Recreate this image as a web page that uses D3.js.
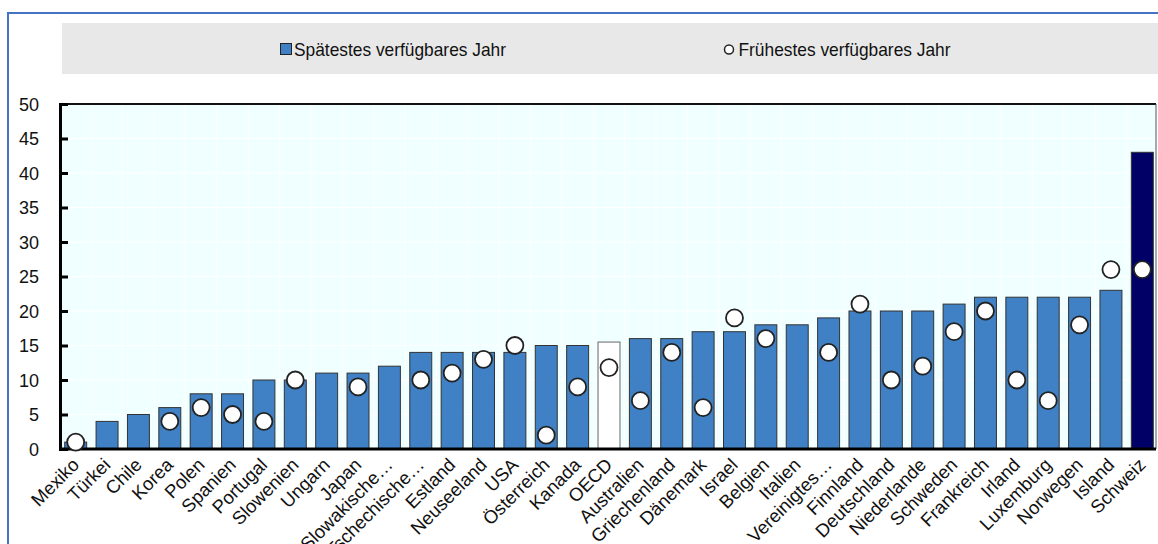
<!DOCTYPE html>
<html>
<head>
<meta charset="utf-8">
<script src="https://cdn.jsdelivr.net/npm/d3@7"></script>
<style>
  html, body { margin: 0; padding: 0; background: #ffffff; }
  svg { display: block; }
  text { font-family: "Liberation Sans", Arial, sans-serif; fill: #111; }
</style>
</head>
<body>
<svg id="chart" width="1158" height="544"></svg>
<script>
const categories = ["Mexiko","Türkei","Chile","Korea","Polen","Spanien","Portugal","Slowenien","Ungarn","Japan","Slowakische…","Tschechische…","Estland","Neuseeland","USA","Österreich","Kanada","OECD","Australien","Griechenland","Dänemark","Israel","Belgien","Italien","Vereinigtes…","Finnland","Deutschland","Niederlande","Schweden","Frankreich","Irland","Luxemburg","Norwegen","Island","Schweiz"];
const latestYear = [1,4,5,6,8,8,10,10,11,11,12,14,14,14,14,15,15,15.5,16,16,17,17,18,18,19,20,20,20,21,22,22,22,22,23,43];
const earliestYear = [1,null,null,4,6,5,4,10,null,9,null,10,11,13,15,2,9,11.8,7,14,6,19,16,null,14,21,10,12,17,20,10,7,18,26,26];
const yTicks = [0,5,10,15,20,25,30,35,40,45,50];
const legendLabels = ["Spätestes verfügbares Jahr","Frühestes verfügbares Jahr"];

(function () {
const svg = d3.select("#chart");
const pL = 60, pR = 1156, pT = 104, pB = 449;

// outer frame
svg.append("rect").attr("x",8).attr("y",13).attr("width",1200).attr("height",600)
  .attr("fill","none").attr("stroke","#4472c4").attr("stroke-width",2);

// legend band
svg.append("rect").attr("x",62).attr("y",23).attr("width",1096).attr("height",51).attr("fill","#e8e8e8");
svg.append("rect").attr("x",280.5).attr("y",43.5).attr("width",11).attr("height",11)
  .attr("fill","#4080c4").attr("stroke","#222").attr("stroke-width",1);
svg.append("text").attr("x",294).attr("y",55.5).attr("font-size",19)
  .attr("textLength",212).attr("lengthAdjust","spacingAndGlyphs").text(legendLabels[0]);
svg.append("circle").attr("cx",729).attr("cy",49.5).attr("r",4.5)
  .attr("fill","#fff").attr("stroke","#222").attr("stroke-width",1.5);
svg.append("text").attr("x",738.5).attr("y",55.5).attr("font-size",19)
  .attr("textLength",212).attr("lengthAdjust","spacingAndGlyphs").text(legendLabels[1]);

const x = d3.scaleBand().domain(categories).range([pL, 1158]).paddingInner(0.3).paddingOuter(0.15);
const y = d3.scaleLinear().domain([0,50]).range([pB, pT]);

// plot background
svg.append("rect").attr("x",pL).attr("y",pT).attr("width",pR-pL).attr("height",pB-pT).attr("fill","#f0ffff");

// grid
const step = x.step();
svg.append("g").selectAll("line").data(categories.slice(1)).join("line")
  .attr("x1",d => x(d) - step*x.paddingInner()/2).attr("x2",d => x(d) - step*x.paddingInner()/2)
  .attr("y1",pT).attr("y2",pB).attr("stroke","#ffffff").attr("stroke-width",1);
svg.append("g").selectAll("line").data(yTicks.slice(1,-1)).join("line")
  .attr("x1",pL).attr("x2",pR).attr("y1",d => y(d)).attr("y2",d => y(d))
  .attr("stroke","#ffffff").attr("stroke-width",1);

// bars
svg.append("g").selectAll("rect").data(categories).join("rect")
  .attr("x",d => x(d)).attr("width",x.bandwidth())
  .attr("y",(d,i) => y(latestYear[i])).attr("height",(d,i) => y(0) - y(latestYear[i]))
  .attr("fill",d => d === "OECD" ? "#ffffff" : (d === "Schweiz" ? "#000066" : "#4080c4"))
  .attr("stroke",d => d === "OECD" ? "#666" : "#333").attr("stroke-width",1);

// plot frame
svg.append("line").attr("x1",pL).attr("x2",pR).attr("y1",pT).attr("y2",pT).attr("stroke","#111").attr("stroke-width",2);
svg.append("line").attr("x1",pR).attr("x2",pR).attr("y1",pT).attr("y2",pB).attr("stroke","#555").attr("stroke-width",1);

// y axis
const yAxis = svg.append("g").attr("transform",`translate(${pL},0)`)
  .call(d3.axisRight(y).tickValues(yTicks).tickSize(8).tickFormat(""));
yAxis.select(".domain").attr("stroke","#000").attr("stroke-width",3);
yAxis.selectAll(".tick line").attr("stroke","#000").attr("stroke-width",3);
svg.append("g").selectAll("text").data(yTicks).join("text")
  .attr("x",39).attr("y",d => y(d) + 6.5).attr("text-anchor","end").attr("font-size",18).text(d => d);

// x axis
const xAxis = svg.append("g").attr("transform",`translate(0,${pB})`)
  .call(d3.axisBottom(x).tickSize(0).tickFormat(""));
xAxis.select(".domain").attr("stroke","#000").attr("stroke-width",3).attr("d",`M${pL},0H${pR}`);
svg.append("g").selectAll("text").data(categories).join("text")
  .attr("transform",d => `translate(${x(d) + x.bandwidth()/2 + 4.5},466) rotate(-45)`)
  .attr("text-anchor","end").attr("font-size",18.5).text(d => d);

// earliest circles
svg.append("g").selectAll("circle").data(categories.filter((d,i) => earliestYear[i] !== null)).join("circle")
  .attr("cx",d => x(d) + x.bandwidth()/2)
  .attr("cy",d => y(earliestYear[categories.indexOf(d)]))
  .attr("r",8.5).attr("fill","#fff").attr("stroke","#222").attr("stroke-width",1.8);
})();
</script>
</body>
</html>
